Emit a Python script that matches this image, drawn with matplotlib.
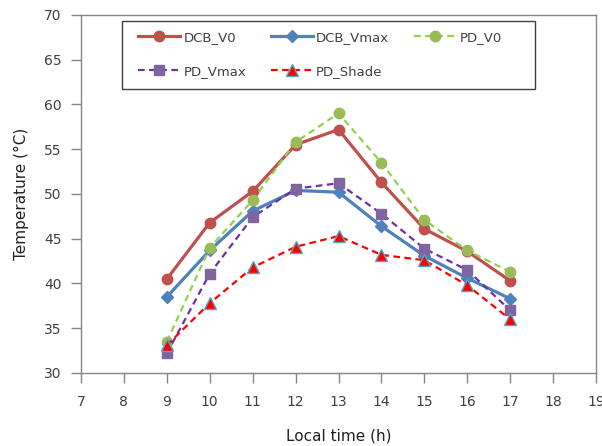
"""Surface temperature vs local time for DCB / PD panels."""

import matplotlib
import matplotlib.pyplot as plt
from matplotlib.patches import Rectangle

matplotlib.use("Agg")

# Data
hours = [9, 10, 11, 12, 13, 14, 15, 16, 17]
dcb_v0 = [40.5, 46.8, 50.3, 55.5, 57.2, 51.3, 46.1, 43.6, 40.3]
dcb_vmax = [38.5, 43.7, 48.1, 50.4, 50.2, 46.4, 43.1, 40.6, 38.3]
pd_v0 = [33.5, 44.0, 49.3, 55.8, 59.0, 53.5, 47.1, 43.7, 41.3]
pd_vmax = [32.2, 41.1, 47.4, 50.6, 51.2, 47.8, 43.9, 41.5, 37.0]
pd_shade = [33.1, 37.8, 41.8, 44.1, 45.3, 43.2, 42.6, 39.8, 36.0]

x_ticks = list(range(7, 20))
y_ticks = list(range(30, 75, 5))

AXIS_GRAY = "#868686"
TEXT_COLOR = "#404040"
W, H = 602, 446

plt.rcParams["font.family"] = ["DejaVu Sans"]

fig = plt.figure(figsize=(W / 100, H / 100), dpi=100)
ax = fig.add_axes([81 / W, 1 - 373 / H, (596 - 81) / W, (373 - 15) / H])

ax.plot(hours, dcb_v0, color="#C0504D", lw=2.3, marker="o", ms=7.5,
        mfc="#C0504D", mec="#C0504D", label="DCB_V0")
ax.plot(hours, dcb_vmax, color="#4F81BD", lw=2.3, marker="D", ms=6.5,
        mfc="#4F81BD", mec="#4F81BD", label="DCB_Vmax")
ax.plot(hours, pd_v0, color="#92D050", lw=1.6, ls=(0, (3, 2)), marker="o", ms=7.5,
        mfc="#9BBB59", mec="#9BBB59", label="PD_V0")
ax.plot(hours, pd_vmax, color="#7030A0", lw=1.6, ls=(0, (3, 2)), marker="s", ms=7,
        mfc="#8064A2", mec="#8064A2", label="PD_Vmax")
ax.plot(hours, pd_shade, color="#FF0000", lw=1.6, ls=(0, (3, 2)), marker="^", ms=8,
        mfc="#FF0000", mec="#4BACC6", mew=1.0, label="PD_Shade")

ax.set_xlim(7, 19)
ax.set_ylim(30, 70)
ax.set_xticks(x_ticks)
ax.set_yticks(y_ticks)

for spine in ax.spines.values():
    spine.set_color(AXIS_GRAY)
    spine.set_linewidth(1.0)

ax.tick_params(direction="out", length=7, width=1.0, color=AXIS_GRAY,
               labelsize=10, labelcolor=TEXT_COLOR)
ax.tick_params(axis="x", pad=9)
ax.tick_params(axis="y", pad=7)

ax.set_xlabel("Local time (h)", fontsize=11, color="#202020", labelpad=14)
ax.set_ylabel("Temperature (°C)", fontsize=11, color="#202020", labelpad=11)

# Legend box drawn separately so its size matches the original frame
fig.patches.append(
    Rectangle((122 / W, 1 - 89 / H), 413 / W, 68 / H, transform=fig.transFigure,
              facecolor="white", edgecolor="#404040", linewidth=1.0, zorder=5)
)

handles, labels = ax.get_legend_handles_labels()
order = [0, 3, 1, 4, 2]
leg = fig.legend(
    [handles[i] for i in order],
    [labels[i] for i in order],
    ncol=3,
    loc="upper left",
    bbox_to_anchor=(138 / W, 1 - 31 / H),
    fontsize=9.5,
    frameon=False,
    borderpad=0.0,
    labelspacing=1.6,
    columnspacing=1.85,
    handlelength=3.2,
    handletextpad=0.25,
    borderaxespad=0,
)
leg.set_zorder(6)
for text in leg.get_texts():
    text.set_color(TEXT_COLOR)

fig.savefig("out.png", dpi=100)
plt.close(fig)
